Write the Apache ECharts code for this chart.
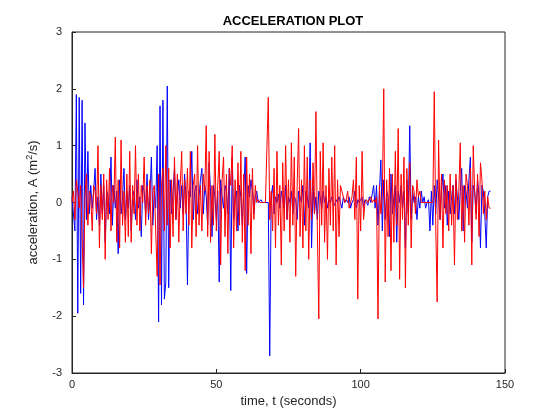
<!DOCTYPE html>
<html><head><meta charset="utf-8">
<script src="https://cdn.jsdelivr.net/npm/echarts@6/dist/echarts.min.js"></script>
<style>html,body{margin:0;padding:0;background:#fff}#c{width:560px;height:420px}</style>
</head><body><div id="c"></div>
<script>
const tStep = 0.5;
const blueA = [
0.1,-0.2,-0.5,1.9,-1.95,1.85,-1.6,1.8,-1.8,1.4,
-0.3,0.9,-0.2,0.3,-0.1,0.2,0.6,-0.3,0.1,-0.4,
0.5,-0.2,0.3,-0.7,0.2,0.1,-0.2,0.8,-0.4,0.3,
-0.1,0.2,-0.9,0.4,-0.2,0.1,0.6,-0.3,0.2,-0.1,
0.3,-0.5,0.1,0.2,-0.3,0.4,-0.1,0.1,-0.6,0.3,
0.2,-0.2,0.5,-0.3,0.1,0.8,-0.4,0.2,-0.1,1.0,
-2.1,1.7,-1.8,1.8,-1.7,-1.4,2.05,-1.5,0.4,-0.2,
0.2,0.6,-0.3,0.1,0.4,-0.1,0.3,-0.2,0.5,0.1,
-1.45,0.2,0.1,0.9,-0.3,0.2,0.3,-0.2,0.1,0.4,
0.6,-0.2,0.3,0.1,-0.4,0.7,0.2,-0.6,0.3,0.1,
-0.3,0.2,-1.4,0.4,0.1,-0.1,0.3,0.2,-0.2,0.6,
-1.55,0.8,-0.3,0.1,0.2,-0.5,0.3,0.1,-0.4,0.2,
0.8,-1.25,0.3,0.1,0.4,0.2,-0.2,0.1,0.2,0.0,
0.0,0.05,0.0,0.0,0.0,0.0,0.0,-2.7,0.1,0.3,
-0.2,0.1,0.0,0.15,-0.1,0.2,0.05,-0.1,0.3,-0.3,
0.1,0.0,0.2,-0.2,0.1,0.05,-0.3,0.2,0.1,0.0,
0.3,-0.4,0.2,0.1,-0.1,1.05,-0.8,0.3,-0.2,0.1,
-0.3,0.2,0.1,-0.1,0.2,0.0,0.1,-0.1,0.05,0.0,
0.1,0.0,-0.05,0.05,0.0,0.1,0.0,-0.1,0.1,0.0,
0.05,0.0,0.1,-0.1,0.0,0.05,0.2,-0.1,0.05,0.0,
0.0,0.1,-0.1,0.05,0.0,-0.05,0.1,0.0,0.0,0.3,
-0.1,0.3,-0.4,0.2,0.75,-0.5,0.4,-0.3,0.2,0.1,
-0.6,0.5,-0.2,0.1,0.3,-0.7,0.2,0.0,0.3,-0.1,
0.2,-0.8,0.4,-0.2,1.35,-0.3,0.2,0.0,0.1,-0.3,
0.1,-0.1,0.2,0.0,0.1,-0.1,0.0,0.05,-0.5,0.2,
-0.4,0.3,-0.2,0.4,0.1,-0.3,0.2,0.5,-0.1,0.3,
-0.4,0.2,-0.2,0.1,0.3,-0.2,0.4,0.1,-0.3,0.2,
0.6,-0.5,0.3,0.2,-0.1,0.4,0.8,-0.7,0.3,0.2,
-0.2,0.4,0.1,-0.8,0.3,0.2,-0.2,-0.8,0.1,0.2,
0.2];
const redA = [
0,0.2,-0.3,0.4,0.2,-0.1,0.3,0.3,-1.5,0.1,
0.5,-0.4,0.2,0.1,-0.5,0.3,0.2,-0.2,1.0,-0.8,
0.3,-0.3,0.5,-1.0,0.4,-0.3,0.6,-0.5,0.3,0.0,
1.15,-0.7,0.4,-0.8,1.1,-0.4,0.2,-0.7,0.5,-0.6,
0.9,-0.7,0.3,-0.2,1.0,-0.4,0.5,-0.5,0.3,0.0,
0.8,-0.4,0.3,-0.2,0.4,-0.9,0.2,0.3,-0.5,-1.3,
0.5,-1.45,0.3,0.6,-0.5,1.0,-0.4,0.6,-0.8,0.4,
-0.6,0.8,-0.3,0.5,-0.7,0.3,0.9,-0.5,0.4,-0.2,
0.6,-0.4,0.9,-0.8,0.3,0.5,-0.6,1.0,-0.4,0.3,
-0.5,0.5,0.2,1.35,-0.6,0.9,-0.7,0.3,-0.4,1.2,
-0.5,0.3,0.9,-1.1,0.4,0.8,-0.6,0.5,-0.9,0.6,
0.3,1.0,-0.8,0.4,-0.5,0.7,-0.4,0.9,-0.7,0.5,
-1.2,0.8,-0.4,0.5,-0.9,0.6,-0.3,0.3,0.0,0.05,
0.0,0.0,0.0,0.0,0.0,0.0,1.85,-0.3,0.2,-0.5,
0.6,-0.8,0.9,-0.4,0.3,-1.1,0.7,-0.5,1.0,-0.3,
0.4,-0.7,1.05,-0.4,0.8,-1.3,0.3,1.3,-0.6,0.4,
-0.8,1.0,-0.5,0.8,-1.0,0.4,-0.3,0.7,-0.2,1.6,
-0.5,-2.05,0.9,-0.4,1.05,-0.7,0.3,-1.0,0.6,-0.4,
0.8,-0.5,1.0,-1.1,0.4,-0.6,0.3,0.2,0.1,0.0,
0.05,0.2,-0.1,0.0,0.1,0.4,-0.3,0.8,-1.7,0.3,
-0.5,0.9,-0.3,0.0,0.05,0.0,0.0,0.1,0.0,0.05,
0.0,0.1,-2.05,0.3,-0.2,0.1,2.0,-1.4,0.4,-0.6,
0.6,-1.2,0.5,-0.7,0.9,-0.4,1.3,-1.35,0.5,-0.3,
0.8,-1.5,0.6,-0.4,0.7,-0.8,0.3,0.2,-0.2,0.4,
0.1,0.2,0.0,0.0,0.0,0.0,0.0,0.0,0.0,0.0,
0.0,1.95,-0.4,-1.75,1.1,-0.3,0.5,-0.8,0.4,-0.2,
0.3,-0.5,0.5,-0.4,0.3,-1.1,0.5,-0.3,0.2,1.05,
-0.5,0.3,-0.7,0.5,0.3,-0.4,0.6,-1.1,1.0,0.2,
-0.3,0.5,-0.6,0.7,0.4,-0.2,0.2,-0.3,0.1,-0.1,
-0.1];
const xTicks = [0, 50, 100, 150];
const yTicks = [-3, -2, -1, 0, 1, 2, 3];

const toPts = arr => arr.map((v, i) => [i * tStep, v]);
const chart = echarts.init(document.getElementById('c'));
const ax = {color:'#262626', fontSize:11, fontFamily:'Liberation Sans, Arial'};
chart.setOption({
  animation:false,
  title:{text:'ACCELERATION PLOT', left:288, top:10, textAlign:'center',
    textStyle:{fontSize:13, fontWeight:'bold', color:'#000', fontFamily:'Liberation Sans, Arial'}},
  grid:{left:72, right:55, top:32, bottom:47, show:true, borderColor:'#262626', borderWidth:1},
  xAxis:{type:'value', min:0, max:150, interval:50, splitLine:{show:false},
    axisLine:{onZero:false, lineStyle:{color:'#262626'}}, axisTick:{inside:true, length:4, lineStyle:{color:'#262626'}},
    axisLabel:Object.assign({margin:6}, ax),
    name:'time, t (seconds)', nameLocation:'middle', nameGap:22,
    nameTextStyle:{fontSize:13, color:'#262626', fontFamily:'Liberation Sans, Arial'}},
  yAxis:{type:'value', min:-3, max:3, interval:1, splitLine:{show:false},
    axisLine:{show:true, onZero:false, lineStyle:{color:'#262626'}}, axisTick:{show:true, inside:true, length:4, lineStyle:{color:'#262626'}},
    axisLabel:Object.assign({margin:10}, ax),
    name:'acceleration, A (m{s|2}/s)', nameLocation:'middle', nameGap:30,
    nameTextStyle:{fontSize:13, color:'#262626', fontFamily:'Liberation Sans, Arial',
      rich:{s:{fontSize:9, verticalAlign:'top', padding:[0,0,8,0], color:'#262626'}}}},
  series:[
    {type:'line', data:toPts(blueA), showSymbol:false, lineStyle:{color:'#0000ff', width:1}},
    {type:'line', data:toPts(redA), showSymbol:false, lineStyle:{color:'#ff0000', width:1}}
  ]
});
</script></body></html>
